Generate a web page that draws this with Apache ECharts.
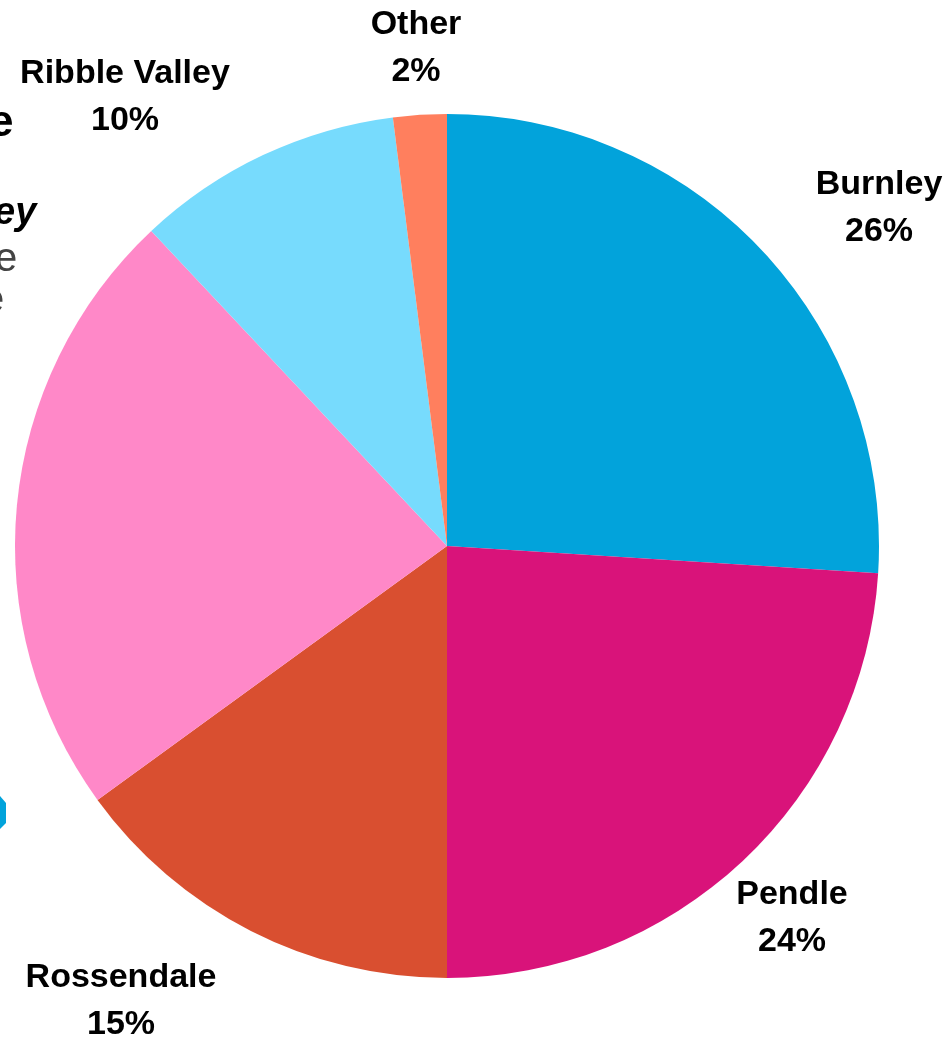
<!DOCTYPE html>
<html>
<head>
<meta charset="utf-8">
<script src="https://cdn.jsdelivr.net/npm/echarts@6/dist/echarts.min.js"></script>
<style>
  html, body { margin: 0; padding: 0; background: #ffffff; }
  #chart { width: 944px; height: 1041px; }
</style>
</head>
<body>
<div id="chart"></div>
<script>
// ---- data ----
var districts = ['Burnley', 'Pendle', 'Rossendale', 'Hyndburn', 'Ribble Valley', 'Other'];
var shares = [26, 24, 15, 23, 10, 2];
var colors = ['#02A3DB', '#D9137A', '#D94F30', '#FF88C8', '#77DBFD', '#FF7F5E'];

// ---- label placement (layout only) ----
var labelPos = [[879, 208], [792, 918], [121, 1001], [-120, 520], [125, 97], [416, 48]];

var FONT = '"Liberation Sans", Arial, Helvetica, sans-serif';
var chart = echarts.init(document.getElementById('chart'), null, { renderer: 'canvas' });

function frag(text, x, y, size, weight, style, color) {
  return {
    type: 'text', x: x, y: y, silent: true,
    style: {
      text: text, fontSize: size, fontWeight: weight, fontStyle: style,
      fontFamily: FONT, fill: color, align: 'left', verticalAlign: 'middle'
    }
  };
}

var option = {
  backgroundColor: '#ffffff',
  animation: false,
  graphic: [
    frag('e', -11, 124, 44, 'bold', 'normal', '#000'),
    frag('ey', -6, 214, 38, 'bold', 'italic', '#000'),
    frag('e', -5, 260, 40, 'normal', 'normal', '#444'),
    frag('e', -18, 301, 40, 'normal', 'normal', '#444'),
    { type: 'polygon', silent: true, shape: { points: [[-20, 796], [0, 796], [6, 803], [6, 823], [0, 829], [-20, 829]] }, style: { fill: '#02A3DB' } }
  ],
  series: [{
    type: 'pie',
    center: [447, 546],
    radius: [0, 432],
    startAngle: 90,
    clockwise: true,
    avoidLabelOverlap: false,
    itemStyle: { borderWidth: 0 },
    label: {
      show: true,
      position: 'outside',
      formatter: '{b}\n{c}%',
      fontFamily: FONT,
      fontWeight: 'bold',
      fontSize: 34,
      lineHeight: 47,
      color: '#000',
      align: 'center'
    },
    labelLine: { show: false },
    labelLayout: function (params) {
      var p = labelPos[params.dataIndex];
      return { x: p[0], y: p[1], align: 'center', verticalAlign: 'middle' };
    },
    emphasis: { disabled: true },
    data: districts.map(function (name, i) {
      return { name: name, value: shares[i], itemStyle: { color: colors[i] } };
    })
  }]
};
chart.setOption(option);
</script>
</body>
</html>
